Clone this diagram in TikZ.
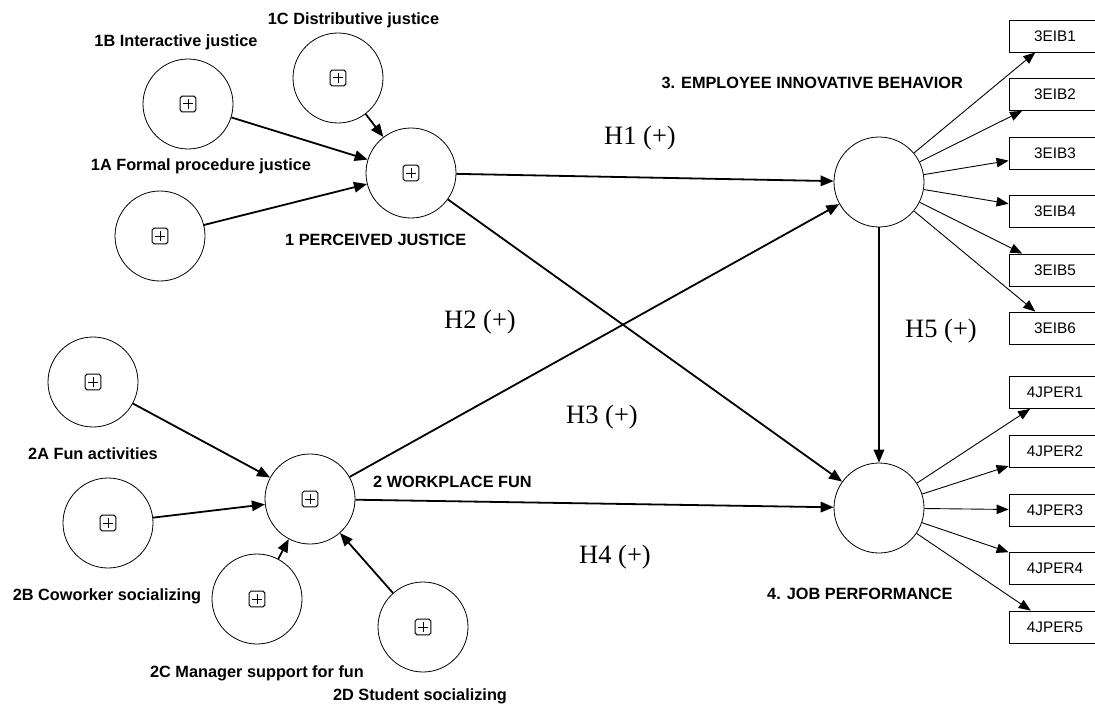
\documentclass[tikz,border=0pt]{standalone}
\usepackage{fontspec}
\setmainfont{Liberation Serif}
\newfontfamily\arialf{Liberation Sans}
\usetikzlibrary{arrows.meta}
\begin{document}
\begin{tikzpicture}[x=1pt,y=-1pt,
  latent/.style={circle,draw,line width=0.8pt,minimum size=90pt,inner sep=0pt},
  indbox/.style={draw,line width=0.8pt,minimum width=92pt,minimum height=32pt,inner sep=0pt,
    font=\arialf\fontsize{15.3}{17}\selectfont},
  lbl/.style={inner sep=0pt,font=\arialf\bfseries\fontsize{16.3}{19}\selectfont},
  hyp/.style={inner sep=0pt,font=\fontsize{26.5}{30}\selectfont},
  pathA/.style={line width=1.8pt,-{Triangle[length=13pt,width=10.5pt]}},
  loadA/.style={line width=0.9pt,-{Triangle[length=12pt,width=9.5pt]}},
  plusicon/.pic={\draw[rounded corners=1.8pt,line width=1pt] (-7.8,-7.8) rectangle (7.8,7.8);
                 \draw[line width=1pt] (-5,0) -- (5,0) (0,-5) -- (0,5);}
]
\useasboundingbox (0,0) rectangle (1095,706);

% latent variables
\node[latent] (B)   at (188,104) {};
\node[latent] (C)   at (338,78)  {};
\node[latent] (A)   at (160,236) {};
\node[latent] (PJ)  at (411,173) {};
\node[latent] (EIB) at (879,182) {};
\node[latent] (JP)  at (879,508) {};
\node[latent] (FA)  at (93,382)  {};
\node[latent] (CS)  at (108,523) {};
\node[latent] (WF)  at (310,499) {};
\node[latent] (MS)  at (257,599) {};
\node[latent] (SS)  at (423,627) {};

\foreach \n in {B,C,A,PJ,FA,CS,WF,MS,SS} \pic at (\n) {plusicon};

% indicators
\node[indbox] (e1) at (1055,36)   {3EIB1};
\node[indbox] (e2) at (1055,94.5) {3EIB2};
\node[indbox] (e3) at (1055,153)  {3EIB3};
\node[indbox] (e4) at (1055,211.5){3EIB4};
\node[indbox] (e5) at (1055,270)  {3EIB5};
\node[indbox] (e6) at (1055,328)  {3EIB6};
\node[indbox] (j1) at (1055,392.5){4JPER1};
\node[indbox] (j2) at (1055,451)  {4JPER2};
\node[indbox] (j3) at (1055,510)  {4JPER3};
\node[indbox] (j4) at (1055,568)  {4JPER4};
\node[indbox] (j5) at (1055,627)  {4JPER5};

% labels
\node[lbl,anchor=base] (l1C) at (353.5,25) {1C Distributive justice};
\node[lbl,anchor=base] (l1B) at (176,47) {1B Interactive justice};
\node[lbl,anchor=base] (l1A) at (201,171) {1A Formal procedure justice};
\node[lbl,anchor=base west] (lPJ) at (285,245) {1 PERCEIVED JUSTICE};
\node[lbl,anchor=base east] (lEIB) at (963,89) {3. EMPLOYEE INNOVATIVE BEHAVIOR};
\node[lbl,anchor=base west] (lJP) at (767,599) {4. JOB PERFORMANCE};
\node[lbl,anchor=base west] (lWF) at (373,487) {2 WORKPLACE FUN};
\node[lbl,anchor=base] (l2A) at (93,459) {2A Fun activities};
\node[lbl,anchor=base] (l2B) at (107,600) {2B Coworker socializing};
\node[lbl,anchor=base] (l2C) at (257,677) {2C Manager support for fun};
\node[lbl,anchor=base] (l2D) at (420,700) {2D Student socializing};

% hypotheses
\node[hyp,anchor=base] (h1) at (640,145) {H1 (+)};
\node[hyp,anchor=base] (h2) at (480,328) {H2 (+)};
\node[hyp,anchor=base] (h3) at (602,423) {H3 (+)};
\node[hyp,anchor=base] (h4) at (615,563) {H4 (+)};
\node[hyp,anchor=base] (h5) at (941,337) {H5 (+)};

% structural paths
\draw[pathA] (B) -- (PJ);
\draw[pathA] (C) -- (PJ);
\draw[pathA] (A) -- (PJ);
\draw[pathA] (PJ) -- (EIB);
\draw[pathA] (PJ) -- (JP);
\draw[pathA] (WF) -- (EIB);
\draw[pathA] (WF) -- (JP);
\draw[pathA] (EIB) -- (JP);
\draw[pathA] (FA) -- (WF);
\draw[pathA] (CS) -- (WF);
\draw[pathA] (MS) -- (WF);
\draw[pathA] (SS) -- (WF);

% loadings
\foreach \t in {e1,e2,e3,e4,e5,e6} \draw[loadA] (EIB) -- (\t);
\foreach \t in {j1,j2,j3,j4,j5} \draw[loadA] (JP) -- (\t);
\end{tikzpicture}
\end{document}
